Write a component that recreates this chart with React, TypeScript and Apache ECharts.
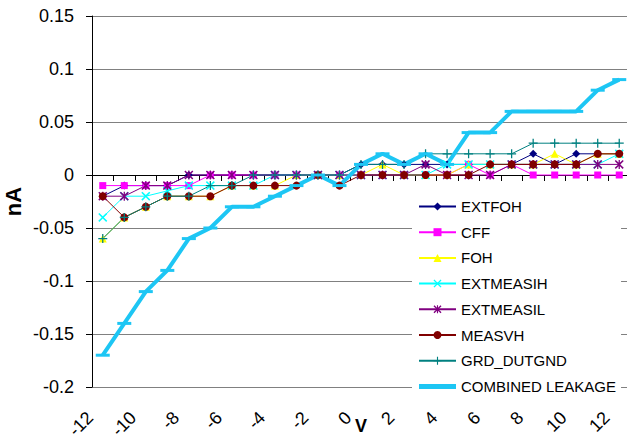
import React, { useEffect, useRef } from 'react';
import * as echarts from 'echarts';

const categories = ['-12', '-11', '-10', '-9', '-8', '-7', '-6', '-5', '-4', '-3', '-2', '-1', '0', '1', '2', '3', '4', '5', '6', '7', '8', '9', '10', '11', '12'];

const extfoh = [-0.02, -0.01, -0.01, -0.01, 0, 0, 0, 0, 0, 0, 0, 0, 0.01, 0.01, 0.01, 0.01, 0.01, 0.01, 0.01, 0.01, 0.02, 0.01, 0.02, 0.02, 0.02];
const cff = [-0.01, -0.01, -0.01, -0.01, -0.01, 0, 0, 0, 0, 0, 0, 0, 0, 0, 0, 0, 0, 0.01, 0, 0.01, 0, 0, 0, 0, 0];
const foh = [-0.06, -0.04, -0.03, -0.02, -0.02, -0.02, -0.01, -0.01, -0.01, 0, 0, 0, 0, 0.01, 0, 0, 0, 0.01, 0.01, 0.01, 0.01, 0.02, 0.01, 0.02, 0.02];
const extmeasih = [-0.04, -0.02, -0.02, -0.015, -0.01, -0.01, -0.01, -0.01, 0, 0, 0, 0, 0, 0, 0, 0, 0.01, 0.01, 0.01, 0.01, 0.01, 0.01, 0.01, 0.01, 0.02];
const extmeasil = [-0.02, -0.02, -0.01, -0.01, 0, 0, 0, 0, 0, 0, 0, 0, 0, 0, 0, 0.01, 0, 0, 0, 0.01, 0.01, 0.01, 0.01, 0.01, 0.01];
const measvh = [-0.02, -0.04, -0.03, -0.02, -0.02, -0.02, -0.01, -0.01, -0.01, -0.01, 0, -0.01, 0, 0, 0, 0, 0, 0, 0.01, 0.01, 0.01, 0.01, 0.01, 0.02, 0.02];
const grdDutgnd = [-0.06, -0.04, -0.03, -0.02, -0.02, -0.01, -0.01, 0, 0, 0, 0, 0, 0.01, 0.01, 0.01, 0.02, 0.02, 0.02, 0.02, 0.02, 0.03, 0.03, 0.03, 0.03, 0.03];
const combined = [-0.17, -0.14, -0.11, -0.09, -0.06, -0.05, -0.03, -0.03, -0.02, -0.01, 0, -0.01, 0.01, 0.02, 0.01, 0.02, 0.01, 0.04, 0.04, 0.06, 0.06, 0.06, 0.06, 0.08, 0.09];

const FONT = '"Liberation Sans", Arial, sans-serif';

const X_PATH = 'path://M0,1.2L1.2,0L5,3.8L8.8,0L10,1.2L6.2,5L10,8.8L8.8,10L5,6.2L1.2,10L0,8.8L3.8,5Z';
const STAR_PATH = 'path://M0,1.2L1.2,0L5,3.8L8.8,0L10,1.2L6.2,5L10,8.8L8.8,10L5,6.2L1.2,10L0,8.8L3.8,5Z M4.3,0H5.7V10H4.3Z';
const PLUS_PATH = 'path://M4.3,0H5.7V4.3H10V5.7H5.7V10H4.3V5.7H0V4.3H4.3Z';
const DASH_PATH = 'path://M0,0H10V2H0Z';

export default function App() {
  const ref = useRef<HTMLDivElement>(null);
  useEffect(() => {
    if (!ref.current) return;
    const chart = echarts.init(ref.current, undefined, { renderer: 'svg' });
    const mk = (name: string, data: number[], color: string, symbol: string, size: any, extra: any = {}) => ({
      name,
      type: 'line',
      data,
      xAxisIndex: 0,
      yAxisIndex: 0,
      symbol,
      symbolSize: size,
      showSymbol: true,
      showAllSymbol: true,
      lineStyle: { color, width: 1 },
      itemStyle: { color, borderWidth: 0 },
      emphasis: { disabled: true },
      ...extra,
    });
    const option: any = {
      animation: false,
      backgroundColor: '#ffffff',
      textStyle: { fontFamily: FONT },
      grid: { left: 92, top: 16, width: 538, height: 371, containLabel: false, outerBoundsMode: 'none' },
      xAxis: [
        {
          type: 'category',
          data: categories,
          boundaryGap: true,
          axisLine: { show: true, onZero: true, lineStyle: { color: '#000', width: 1 } },
          axisTick: { show: true, length: 6, interval: 0, lineStyle: { color: '#000', width: 1 } },
          axisLabel: { show: false },
          splitLine: { show: false },
        },
        {
          type: 'category',
          data: categories,
          boundaryGap: true,
          position: 'bottom',
          axisLine: { show: false, onZero: false },
          axisTick: { show: false },
          axisLabel: {
            interval: 1,
            rotate: 45,
            fontSize: 18,
            color: '#000',
            fontFamily: FONT,
            margin: 15,
            padding: [0, 18, 18, 0],
          },
          splitLine: { show: false },
          name: 'V',
          nameLocation: 'middle',
          nameGap: 30,
          nameMoveOverlap: false,
          nameTextStyle: { fontWeight: 'bold', fontSize: 18, color: '#000', fontFamily: FONT },
        },
      ],
      yAxis: {
        type: 'value',
        min: -0.2,
        max: 0.15,
        interval: 0.05,
        axisLine: { show: true, onZero: false, lineStyle: { color: '#000', width: 1 } },
        axisTick: { show: true, length: 6, lineStyle: { color: '#000', width: 1 } },
        axisLabel: {
          fontSize: 18,
          color: '#000',
          fontFamily: FONT,
          margin: 18,
          formatter: (v: number) => String(Math.round(v * 100) / 100),
        },
        splitLine: { show: true, lineStyle: { color: '#808080', width: 1 } },
        name: 'nA',
        nameLocation: 'middle',
        nameGap: 68,
        nameMoveOverlap: false,
        nameTextStyle: { fontWeight: 'bold', fontSize: 22, color: '#000', fontFamily: FONT },
      },
      legend: {
        orient: 'vertical',
        left: 412,
        top: 192,
        padding: [7, 5, 7, 6],
        backgroundColor: '#ffffff',
        itemWidth: 37,
        itemHeight: 10,
        itemGap: 10.7,
        textStyle: { fontSize: 15, color: '#000', fontFamily: FONT },
        data: [
          'EXTFOH', 'CFF', 'FOH', 'EXTMEASIH', 'EXTMEASIL', 'MEASVH', 'GRD_DUTGND',
          { name: 'COMBINED LEAKAGE', icon: 'path://M0,0H37V5H0Z' },
        ],
      },
      series: [
        mk('EXTFOH', extfoh, '#000080', 'diamond', 8),
        mk('CFF', cff, '#FF00FF', 'rect', 7),
        mk('FOH', foh, '#FFFF00', 'triangle', 8),
        mk('EXTMEASIH', extmeasih, '#00FFFF', X_PATH, 9),
        mk('EXTMEASIL', extmeasil, '#800080', STAR_PATH, 9),
        mk('MEASVH', measvh, '#800000', 'circle', 8),
        mk('GRD_DUTGND', grdDutgnd, '#008080', PLUS_PATH, 9),
        mk('COMBINED LEAKAGE', combined, '#1DC6F4', DASH_PATH, [14, 3], { lineStyle: { color: '#1DC6F4', width: 4 } }),
      ],
    };
    chart.setOption(option);
    return () => chart.dispose();
  }, []);
  return <div ref={ref} style={{ width: 627, height: 440, position: 'absolute', left: 0, top: 0 }} />;
}
